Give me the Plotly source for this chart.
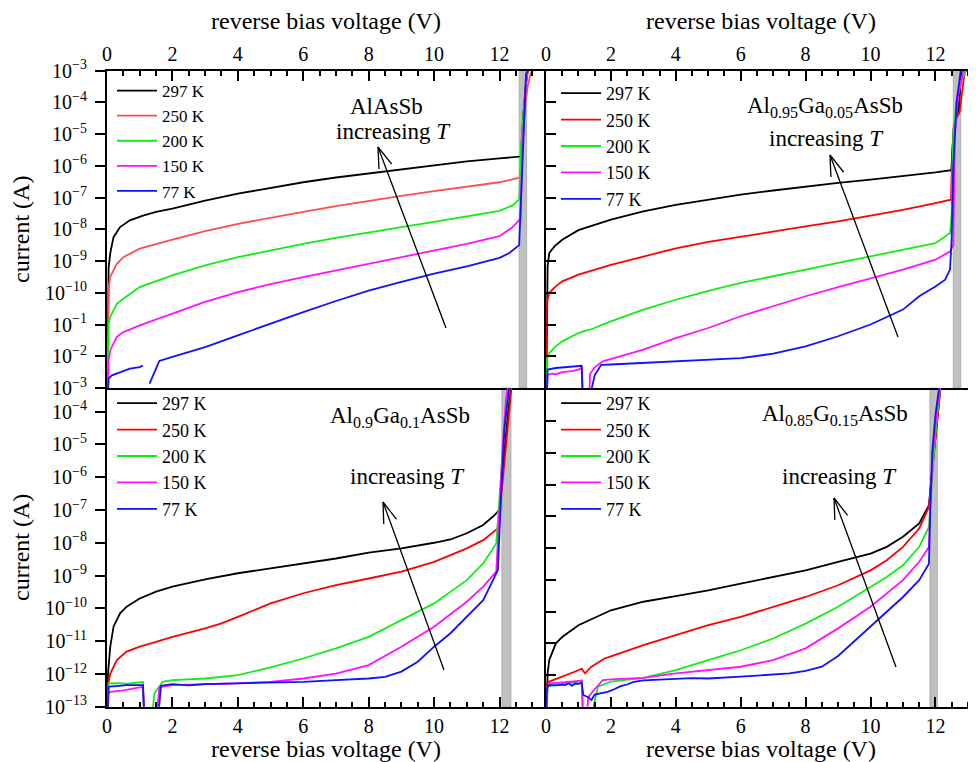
import math
import plotly.graph_objects as go

# page is 976x762; the html body adds an 8px margin, so the figure is drawn 8px in
PAGE_W, PAGE_H = 976, 762
OX, OY = 8, 8
W, H = PAGE_W - OX, PAGE_H - OY
FONT = "Liberation Serif"

# ------------------------------------------------------------------
# DATA: reverse bias voltage (V) and log10(current / A)
# ------------------------------------------------------------------
TEMPS = ["297 K", "250 K", "200 K", "150 K", "77 K"]

# Panel 1 : AlAsSb
p1_v_297 = [0, 0.05, 0.1, 0.2, 0.4, 0.7, 1.1, 1.5, 2, 3, 4, 5, 6, 7, 8, 9, 10, 11, 12, 12.65, 12.72, 12.8, 12.86, 12.95]
p1_i_297 = [-14, -9.2, -8.75, -8.25, -7.93, -7.72, -7.57, -7.45, -7.35, -7.1, -6.88, -6.69, -6.52, -6.37, -6.24, -6.1, -5.97, -5.86, -5.77, -5.71, -4.5, -3.5, -3.05, -2.9]
p1_v_250 = [0, 0.03, 0.05, 0.1, 0.3, 0.5, 1, 2, 3, 4, 5, 6, 7, 8, 9, 10, 11, 12, 12.63, 12.7, 12.8, 12.86, 12.95, 13.05]
p1_i_250 = [-14, -10.3, -9.85, -9.5, -9.09, -8.88, -8.61, -8.33, -8.06, -7.83, -7.63, -7.45, -7.27, -7.1, -6.95, -6.8, -6.66, -6.52, -6.37, -5.2, -4.0, -3.5, -3.1, -2.9]
p1_v_200 = [0, 0.03, 0.05, 0.1, 0.3, 0.5, 1, 2, 3, 4, 5, 6, 7, 8, 9, 10, 11, 12, 12.4, 12.6, 12.65, 12.75, 12.82, 12.9]
p1_i_200 = [-14, -11.4, -10.97, -10.76, -10.35, -10.19, -9.82, -9.45, -9.14, -8.88, -8.66, -8.46, -8.27, -8.09, -7.93, -7.77, -7.6, -7.42, -7.25, -7.06, -5.5, -4.0, -3.2, -2.9]
p1_v_150 = [0, 0.03, 0.05, 0.1, 0.3, 0.5, 1, 2, 3, 4, 5, 6, 7, 8, 9, 10, 11, 12, 12.4, 12.6, 12.64, 12.7, 12.8, 12.87]
p1_i_150 = [-14, -12.6, -12.13, -11.81, -11.39, -11.24, -11.03, -10.66, -10.29, -9.98, -9.73, -9.51, -9.3, -9.09, -8.88, -8.67, -8.46, -8.22, -7.93, -7.72, -7.7, -5.5, -3.5, -2.9]
p1_v_77 = [0, 0.05, 0.15, 0.5, 0.7, 1.0, 1.1, 1.2, 1.3, 1.45, 1.6, 2, 3, 4, 5, 6, 7, 8, 9, 10, 11, 12, 12.3, 12.6, 12.81, 12.88, 12.95]
p1_i_77 = [-14, -12.7, -12.6, -12.47, -12.39, -12.34, -12.29, None, -12.86, -12.5, -12.15, -12.02, -11.71, -11.34, -10.97, -10.61, -10.26, -9.93, -9.66, -9.40, -9.17, -8.9, -8.75, -8.5, -3.1, -3.0, -2.9]

# Panel 2 : Al0.95Ga0.05AsSb
p2_v_297 = [0, 0.03, 0.05, 0.1, 0.26, 0.5, 1, 2, 3, 4, 5, 6, 7, 8, 9, 10, 11, 12, 12.49, 12.56, 12.66, 12.72, 12.78, 12.85]
p2_i_297 = [-14, -9.8, -9.17, -8.75, -8.54, -8.33, -8.03, -7.7, -7.44, -7.23, -7.06, -6.91, -6.78, -6.65, -6.54, -6.44, -6.33, -6.21, -6.14, -4.8, -4.45, -4.2, -3.3, -2.9]
p2_v_250 = [0, 0.02, 0.05, 0.1, 0.3, 0.5, 1, 2, 3, 4, 5, 6, 7, 8, 9, 10, 11, 12, 12.48, 12.52, 12.6, 12.75, 12.8, 12.88, 12.95]
p2_i_250 = [-14, -10.53, -10.2, -10.0, -9.8, -9.64, -9.43, -9.12, -8.86, -8.6, -8.4, -8.23, -8.07, -7.91, -7.75, -7.58, -7.39, -7.18, -7.07, -5.5, -4.6, -4.3, -3.8, -3.2, -2.9]
p2_v_200 = [0, 0.02, 0.1, 0.3, 0.5, 1, 1.2, 1.4, 2, 3, 4, 5, 6, 7, 8, 9, 10, 11, 12, 12.45, 12.5, 12.55, 12.65, 12.8, 12.93, 13.0]
p2_i_200 = [-14, -12.1, -11.9, -11.69, -11.53, -11.27, -11.2, -11.15, -10.9, -10.53, -10.22, -9.94, -9.69, -9.47, -9.27, -9.06, -8.86, -8.65, -8.44, -8.12, -7.5, -5.0, -4.0, -3.3, -3.0, -2.9]
p2_v_150 = [0, 0.03, 0.05, 0.2, 0.3, 0.5, 0.8, 1.0, 1.1, 1.16, 1.32, 1.36, 1.5, 1.75, 2, 3, 4, 5, 6, 7, 8, 9, 10, 11, 12, 12.45, 12.55, 12.6, 12.7, 12.86, 12.92]
p2_i_150 = [-14, -12.8, -12.58, -12.55, -12.57, -12.5, -12.47, -12.42, -12.37, -13.5, -13.5, -12.55, -12.35, -12.16, -12.09, -11.79, -11.43, -11.11, -10.74, -10.42, -10.11, -9.82, -9.54, -9.27, -8.96, -8.7, -8.5, -5.0, -3.8, -3.0, -2.9]
p2_v_77 = [0, 0.03, 0.05, 0.3, 0.6, 1.1, 1.13, 1.3, 1.5, 1.7, 2, 3, 4, 5, 6, 7, 8, 9, 10, 11, 11.5, 12, 12.3, 12.45, 12.5, 12.55, 12.65, 12.78, 12.85]
p2_i_77 = [-14, -12.6, -12.42, -12.37, -12.35, -12.3, -13.5, -13.5, -12.6, -12.27, -12.26, -12.21, -12.16, -12.12, -12.06, -11.92, -11.69, -11.37, -11.0, -10.53, -10.11, -9.8, -9.59, -9.27, -8.3, -6.0, -4.0, -3.0, -2.9]

# Panel 3 : Al0.9Ga0.1AsSb
p3_v_297 = [0, 0.03, 0.1, 0.2, 0.4, 0.6, 1, 1.5, 2, 3, 4, 5, 6, 7, 8, 9, 10, 10.5, 11, 11.5, 11.8, 12.0, 12.1, 12.2, 12.3, 12.4]
p3_i_297 = [-14, -12.0, -11.17, -10.56, -10.15, -9.95, -9.70, -9.49, -9.34, -9.12, -8.93, -8.78, -8.63, -8.48, -8.30, -8.17, -8.0, -7.9, -7.71, -7.46, -7.2, -7.0, -5.8, -4.6, -3.6, -3.0]
p3_v_250 = [0, 0.02, 0.1, 0.3, 0.6, 1, 1.5, 2, 3, 3.5, 4, 4.5, 5, 6, 7, 8, 9, 10, 11, 11.5, 11.95, 12.05, 12.2, 12.3, 12.38]
p3_i_250 = [-14, -12.39, -11.99, -11.58, -11.32, -11.17, -11.02, -10.87, -10.61, -10.46, -10.26, -10.05, -9.85, -9.54, -9.29, -9.09, -8.88, -8.58, -8.17, -7.92, -7.56, -6.6, -5.0, -4.0, -3.1]
p3_v_200 = [0, 0.05, 0.3, 0.6, 0.9, 1.1, 1.13, 1.35, 1.45, 1.7, 2, 3, 4, 5, 6, 7, 8, 9, 10, 11, 11.5, 11.9, 12.05, 12.15, 12.3, 12.35]
p3_i_200 = [-14, -12.29, -12.28, -12.3, -12.27, -12.25, -13.5, -13.5, -12.6, -12.24, -12.19, -12.14, -12.04, -11.8, -11.53, -11.22, -10.87, -10.36, -9.85, -9.14, -8.63, -8.02, -6.0, -4.5, -3.3, -3.0]
p3_v_150 = [0, 0.02, 0.1, 0.5, 1.0, 1.1, 1.15, 1.5, 1.6, 2, 3, 4, 5, 6, 7, 8, 9, 10, 11, 11.5, 11.9, 12.0, 12.1, 12.2, 12.3]
p3_i_150 = [-14, -12.6, -12.55, -12.5, -12.41, -12.4, -13.5, -13.5, -12.4, -12.34, -12.31, -12.29, -12.24, -12.14, -11.99, -11.73, -11.17, -10.56, -9.80, -9.34, -8.88, -7.0, -5.0, -3.6, -3.0]
p3_v_77 = [0, 0.05, 0.3, 0.6, 1.1, 1.15, 1.55, 1.65, 2, 2.5, 3, 4, 5, 6, 7, 8, 8.5, 9, 9.5, 10, 10.5, 11, 11.5, 11.8, 11.95, 12.05, 12.15, 12.3, 12.35]
p3_i_77 = [-14, -12.39, -12.37, -12.34, -12.34, -13.5, -13.5, -12.36, -12.31, -12.35, -12.31, -12.29, -12.27, -12.24, -12.19, -12.14, -12.09, -11.93, -11.63, -11.17, -10.76, -10.26, -9.75, -9.14, -8.83, -6.5, -4.5, -3.2, -3.0]

# Panel 4 : Al0.85G0.15AsSb
p4_v_297 = [0, 0.02, 0.05, 0.1, 0.3, 0.5, 1, 2, 3, 4, 5, 6, 7, 8, 9, 10, 10.5, 11, 11.5, 11.8, 11.9, 12.0, 12.1, 12.15]
p4_i_297 = [-14, -12.79, -11.95, -11.53, -11.01, -10.8, -10.43, -9.96, -9.69, -9.51, -9.33, -9.12, -8.91, -8.70, -8.43, -8.17, -7.96, -7.64, -7.22, -6.65, -5.5, -4.4, -3.4, -3.0]
p4_v_250 = [0, 0.02, 0.1, 0.5, 1, 1.1, 1.2, 1.4, 1.8, 2, 3, 4, 5, 6, 7, 8, 9, 10, 10.5, 11, 11.5, 11.8, 11.88, 12.0, 12.1, 12.16]
p4_i_250 = [-14, -12.27, -12.21, -12.06, -11.85, -11.8, -11.95, -11.74, -11.48, -11.41, -11.06, -10.74, -10.43, -10.17, -9.85, -9.54, -9.17, -8.70, -8.38, -7.96, -7.38, -6.70, -5.8, -4.5, -3.4, -2.9]
p4_v_200 = [0, 0.02, 0.05, 0.2, 0.5, 1, 1.1, 1.15, 1.35, 1.6, 2, 3, 4, 5, 6, 7, 8, 9, 10, 10.5, 11, 11.5, 11.8, 11.84, 11.95, 12.05, 12.15]
p4_i_200 = [-14, -12.9, -12.37, -12.32, -12.3, -12.21, -12.2, -13.5, -13.5, -12.37, -12.21, -12.09, -11.85, -11.53, -11.22, -10.85, -10.38, -9.85, -9.22, -8.91, -8.54, -7.96, -7.33, -6.7, -5.0, -3.8, -2.9]
p4_v_150 = [0, 0.02, 0.1, 0.5, 1, 1.1, 1.15, 1.25, 1.3, 1.5, 1.75, 2, 3, 4, 5, 6, 7, 8, 9, 10, 11, 11.5, 11.8, 11.84, 11.92, 12.05, 12.15]
p4_i_150 = [-14, -12.48, -12.27, -12.24, -12.19, -12.17, -13.5, -13.5, -12.7, -12.45, -12.16, -12.14, -12.09, -11.95, -11.85, -11.74, -11.53, -11.16, -10.53, -9.85, -9.01, -8.43, -7.96, -6.7, -5.0, -3.6, -2.9]
p4_v_77 = [0, 0.02, 0.05, 0.3, 0.5, 0.6, 0.7, 0.8, 0.9, 1.0, 1.1, 1.15, 1.3, 1.4, 1.5, 1.7, 1.9, 2.1, 2.3, 2.5, 2.7, 3, 3.5, 4, 4.5, 5, 5.5, 6, 6.5, 7, 7.5, 8, 8.3, 8.5, 9, 10, 11, 11.5, 11.8, 11.84, 11.9, 12.0, 12.12]
p4_i_77 = [-14, -12.6, -12.32, -12.33, -12.30, -12.32, -12.26, -12.34, -12.27, -12.28, -12.25, -12.63, -12.70, -12.79, -12.62, -12.57, -12.53, -12.45, -12.35, -12.3, -12.22, -12.17, -12.15, -12.12, -12.1, -12.11, -12.07, -12.05, -12.02, -11.99, -11.95, -11.87, -11.78, -11.74, -11.4, -10.48, -9.54, -9.01, -8.49, -6.8, -5.0, -3.8, -2.9]

# grey breakdown bands (V)
bands = [(12.6, 12.83), (12.55, 12.78), (12.07, 12.35), (11.83, 12.06)]

materials = ["AlAsSb",
             "Al<sub>0.95</sub>Ga<sub>0.05</sub>AsSb",
             "Al<sub>0.9</sub>Ga<sub>0.1</sub>AsSb",
             "Al<sub>0.85</sub>G<sub>0.15</sub>AsSb"]

# y tick labels (as printed in the original figure)
tl_ticktext = ["10<sup>−%d</sup>" % k for k in range(3, 11)] + ["10<sup>−1</sup>", "10<sup>−2</sup>", "10<sup>−3</sup>"]
bl_ticktext = ["10<sup>−%d</sup>" % k for k in range(4, 14)]

panels = [
    [(p1_v_297, p1_i_297), (p1_v_250, p1_i_250), (p1_v_200, p1_i_200), (p1_v_150, p1_i_150), (p1_v_77, p1_i_77)],
    [(p2_v_297, p2_i_297), (p2_v_250, p2_i_250), (p2_v_200, p2_i_200), (p2_v_150, p2_i_150), (p2_v_77, p2_i_77)],
    [(p3_v_297, p3_i_297), (p3_v_250, p3_i_250), (p3_v_200, p3_i_200), (p3_v_150, p3_i_150), (p3_v_77, p3_i_77)],
    [(p4_v_297, p4_i_297), (p4_v_250, p4_i_250), (p4_v_200, p4_i_200), (p4_v_150, p4_i_150), (p4_v_77, p4_i_77)],
]

# ------------------------------------------------------------------
# STYLE / LAYOUT
# ------------------------------------------------------------------
colors_p1 = ["#000000", "#ff4d4d", "#11ee11", "#ff11ff", "#1111ff"]
colors = ["#000000", "#ff0000", "#11ee11", "#ff11ff", "#1111ff"]

def px(x):   # page pixel -> paper fraction
    return (x - OX) / W

def py(y):
    return 1 - (y - OY) / H

XL = [px(107), px(545)]
XR = [px(546), 1.0]
YT = [py(388), py(70.5)]
YB = [py(706.7), py(388)]
x_range_L = [0, 13.39]
x_range_R = [0, 13.25]
y_ranges = [[-13, -3], [-13, -3], [-13, -3.28], [-13, -2.95]]

fig = go.Figure()

axis_ids = [("x", "y"), ("x2", "y2"), ("x3", "y3"), ("x4", "y4")]
legend_ids = ["legend", "legend2", "legend3", "legend4"]

for p, series in enumerate(panels):
    xa, ya = axis_ids[p]
    cols = colors_p1 if p == 0 else colors
    for k, (v, li) in enumerate(series):
        cur = [None if e is None else 10 ** e for e in li]
        fig.add_trace(go.Scatter(
            x=v, y=cur, mode="lines", name=TEMPS[k],
            line=dict(color=cols[k], width=1.8),
            xaxis=xa, yaxis=ya, legend=legend_ids[p],
            connectgaps=False, hoverinfo="skip"))

tickfont = dict(family=FONT, size=20, color="black")
titlefont = dict(family=FONT, size=24, color="black")
xtitle = "reverse bias voltage (V)"

def xaxis(domain, rng, side, anchor, mirror, standoff):
    return dict(domain=domain, range=rng, side=side, anchor=anchor, automargin=False,
                tick0=0, dtick=2, ticks="inside", ticklen=10, tickwidth=1.5, tickcolor="black",
                minor=dict(dtick=0.5, ticks="inside", ticklen=5, tickwidth=1.5, tickcolor="black"),
                showline=True, linewidth=2, linecolor="black", mirror=mirror,
                showgrid=False, zeroline=False, tickfont=tickfont,
                title=dict(text=xtitle, font=titlefont, standoff=standoff))

def yaxis(domain, rng, anchor, labels, ticktext, tickvals):
    d = dict(domain=domain, range=rng, type="log", anchor=anchor, automargin=False,
             tickvals=tickvals, ticktext=ticktext,
             ticks="outside" if labels else "inside", ticklen=10, tickwidth=1.5, tickcolor="black",
             showticklabels=labels, showline=True, linewidth=2, linecolor="black",
             showgrid=False, zeroline=False, tickfont=tickfont)
    if labels:
        d["ticklabelstandoff"] = 4
        d["title"] = dict(text="current (A)", font=titlefont, standoff=10)
    return d

tv_top = [10.0 ** (-k) for k in range(3, 14)]
tv_bot = [10.0 ** (-k) for k in range(4, 14)]

fig.update_layout(
    xaxis=xaxis(XL, x_range_L, "top", "y", True, 8),
    yaxis=yaxis(YT, y_ranges[0], "x", True, tl_ticktext, tv_top),
    xaxis2=xaxis(XR, x_range_R, "top", "y2", True, 8),
    yaxis2=yaxis(YT, y_ranges[1], "x2", False, None, tv_top),
    xaxis3=xaxis(XL, x_range_L, "bottom", "y3", False, 1),
    yaxis3=yaxis(YB, y_ranges[2], "x3", True, bl_ticktext, tv_bot),
    xaxis4=xaxis(XR, x_range_R, "bottom", "y4", False, 1),
    yaxis4=yaxis(YB, y_ranges[3], "x4", False, None, tv_bot),
)

# legends (page pixel of top-left corner, font size)
leg_pos = [(112, 73, 17), (556, 75, 18), (112, 385, 18), (556, 385, 18)]
for p, lid in enumerate(legend_ids):
    lx, ly, fs = leg_pos[p]
    fig.update_layout(**{lid: dict(x=px(lx), y=py(ly), xanchor="left", yanchor="top",
                                    bgcolor="rgba(0,0,0,0)", borderwidth=0, itemwidth=40,
                                    font=dict(family=FONT, size=fs, color="black"),
                                    tracegroupgap=0)})

shapes = []
# grey bands
for p, (b0, b1) in enumerate(bands):
    xa, ya = axis_ids[p]
    shapes.append(dict(type="rect", xref=xa, yref=ya + " domain", x0=b0, x1=b1, y0=0, y1=1,
                       fillcolor="#c0c0c0", line=dict(width=0.8, color="#a8a8a8"), layer="below"))

# "increasing T" arrows (page pixel positions of tail and head)
arrows = [((446, 328), (378, 147)), ((898, 337), (830, 155)),
          ((444, 670), (383, 502)), ((896, 667), (834, 498))]

def seg(x0, y0, x1, y1):
    return dict(type="line", xref="paper", yref="paper",
                x0=px(x0), y0=py(y0), x1=px(x1), y1=py(y1),
                line=dict(color="black", width=1.3))

for (tx, ty), (hx, hy) in arrows:
    shapes.append(seg(tx, ty, hx, hy))
    ang = math.atan2(ty - hy, tx - hx)
    for s in (1, -1):
        a = ang + s * math.radians(18)
        shapes.append(seg(hx, hy, hx + 22 * math.cos(a), hy + 22 * math.sin(a)))

annos = []
mat_pos = [(386, 107), (825, 107), (400, 417), (835, 415)]
inc_pos = [(393, 132), (826, 138), (407, 476), (839, 476)]
for p in range(4):
    annos.append(dict(text=materials[p], x=px(mat_pos[p][0]), y=py(mat_pos[p][1]),
                      xref="paper", yref="paper", showarrow=False,
                      xanchor="center", yanchor="middle",
                      font=dict(family=FONT, size=23, color="black")))
    annos.append(dict(text="increasing <i>T</i>", x=px(inc_pos[p][0]), y=py(inc_pos[p][1]),
                      xref="paper", yref="paper", showarrow=False,
                      xanchor="center", yanchor="middle",
                      font=dict(family=FONT, size=23, color="black")))

fig.update_layout(
    width=W, height=H, autosize=False,
    margin=dict(l=0, r=0, t=0, b=0, pad=0, autoexpand=False),
    paper_bgcolor="white", plot_bgcolor="white",
    shapes=shapes, annotations=annos, showlegend=True,
    font=dict(family=FONT, color="black"),
)

fig.write_html("out.html")
